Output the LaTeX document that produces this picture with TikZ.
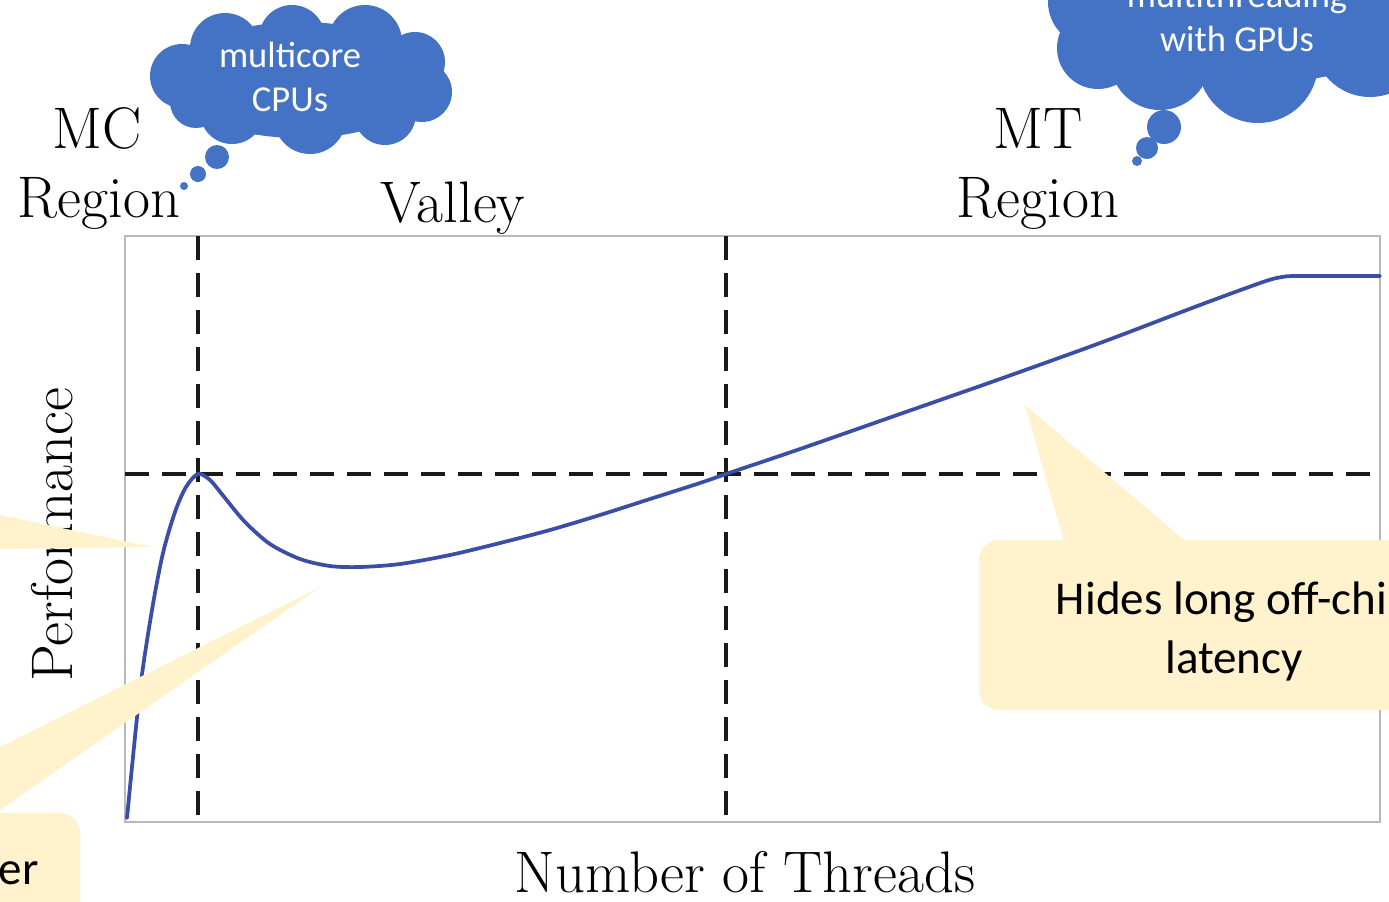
\documentclass[tikz,border=0pt]{standalone}
\usepackage{fontspec}
\newfontfamily\calibri{Carlito}
\definecolor{cloudblue}{RGB}{68,114,196}
\definecolor{notefill}{RGB}{255,242,204}
\definecolor{curveblue}{RGB}{58,78,168}
\definecolor{framegray}{RGB}{185,185,185}
\definecolor{dashgray}{RGB}{25,25,25}
\tikzset{
  axislabel/.style={font=\fontsize{44}{52}\selectfont, inner sep=0pt, anchor=base},
  cloudtext/.style={font=\calibri\fontsize{27.4}{33}\selectfont, text=white, align=center, inner sep=0pt},
  notetext/.style={font=\calibri\fontsize{35.3}{44.2}\selectfont, text=black, align=center, inner sep=0pt},
  guide/.style={draw=dashgray, line width=2.8pt, dash pattern=on 18pt off 9.75pt},
  perfcurve/.style={draw=curveblue, line width=2.8pt, line join=round, line cap=round},
  plotframe/.style={draw=framegray, line width=1.6pt},
  puff/.style={fill=cloudblue},
  notebg/.style={fill=notefill},
}
\begin{document}
\begin{tikzpicture}[x=0.75pt, y=-0.75pt]
\useasboundingbox (0,0) rectangle (1389,901);
\clip (0,0) rectangle (1389,901);
\fill[white] (0,0) rectangle (1389,901);

% ---- axis and region labels
\node[axislabel] (mc)     at (97,148)  {MC};
\node[axislabel] (mcreg)  at (99,217)  {Region};
\node[axislabel] (valley) at (453,222) {Valley};
\node[axislabel] (mt)     at (1038,148) {MT};
\node[axislabel] (mtreg)  at (1038,217) {Region};
\node[axislabel] (xlab)   at (745,892) {Number of Threads};
\node[axislabel, rotate=90] (ylab) at (72,535) {Performance};

% ---- plot area
\coordinate (tl) at (125,236);
\coordinate (br) at (1380,822);
\draw[plotframe] (tl) rectangle (br);

\coordinate (v1top) at (198,236);  \coordinate (v1bot) at (198,822);
\coordinate (v2top) at (726,236);  \coordinate (v2bot) at (726,822);
\coordinate (hleft) at (125,474);  \coordinate (hright) at (1380,474);
\draw[guide] (v1top) -- (v1bot);
\draw[guide] (v2top) -- (v2bot);
\draw[guide] (hleft) -- (hright);

% performance curve
\draw[perfcurve] plot[smooth, tension=0.5] coordinates {
  (127,818) (140,690) (152,610) (163,553) (175,512) (186,487) (198,474)
  (210,480) (225,498) (245,522) (270,544) (300,559) (330,566) (360,567)
  (400,564) (450,555) (500,543) (550,530) (600,515) (650,499) (700,483)
  (726,474) (800,449) (900,414) (1000,379) (1100,343) (1200,305)
  (1263,282) (1282,277) (1298,276) (1380,276)};

% ---- callouts
\fill[notebg] (0,515) -- (152,547) -- (0,549) -- cycle;
\fill[notebg] (320,587) -- (0,747) -- (0,810) -- cycle;
\fill[notebg, rounded corners=15pt] (-40,813) rectangle (80,960);
\node[notetext, anchor=base east] (er) at (39,884) {er};

\fill[notebg] (1025,405) -- (1190,545) -- (1065,545) -- cycle;
\fill[notebg, rounded corners=15pt] (979,540) rectangle (1440,710);
\node[notetext] (hides) at (1234,631) {Hides long off-chip\\latency};

% ---- thought cloud: multicore CPUs
\begin{scope}[puff]
  \fill (300,80) ellipse[x radius=130, y radius=58];
  \fill (182,76) circle[radius=32];
  \fill (225,48) circle[radius=35];
  \fill (292,38) circle[radius=33];
  \fill (365,42) circle[radius=37];
  \fill (415,62) circle[radius=30];
  \fill (422,92) circle[radius=30];
  \fill (385,114) circle[radius=31];
  \fill (310,118) circle[radius=36];
  \fill (232,112) circle[radius=32];
  \fill (196,102) circle[radius=26];
  \fill (217,157) circle[radius=12];
  \fill (198,174) circle[radius=8];
  \fill (184,186) circle[radius=4];
\end{scope}
\node[cloudtext] (cpu) at (290,76.5) {multicore\\CPUs};

% ---- thought cloud: multithreading with GPUs
\begin{scope}[puff]
  \fill (1240,5) ellipse[x radius=190, y radius=80];
  \fill (1092,2) circle[radius=44];
  \fill (1098,48) circle[radius=41];
  \fill (1160,60) circle[radius=50];
  \fill (1258,63) circle[radius=60];
  \fill (1370,40) circle[radius=57];
  \fill (1164,127) circle[radius=17];
  \fill (1147,148) circle[radius=11];
  \fill (1137,161) circle[radius=5];
\end{scope}
\node[cloudtext] (gpu) at (1237,16.5) {multithreading\\with GPUs};
\end{tikzpicture}
\end{document}
